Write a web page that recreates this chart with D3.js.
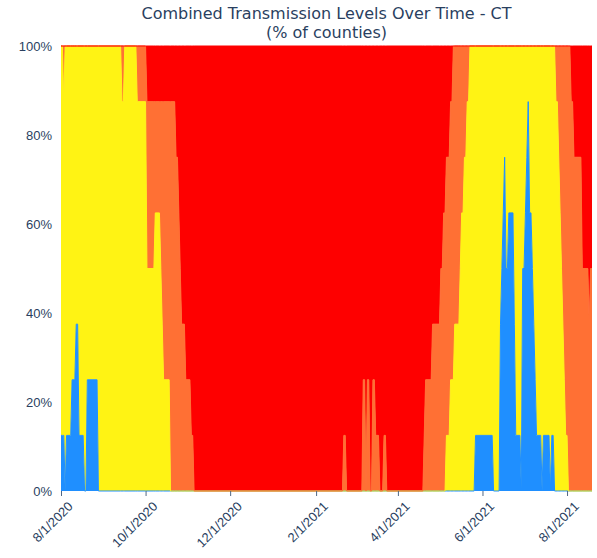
<!DOCTYPE html>
<html><head><meta charset="utf-8">
<script src="https://cdn.jsdelivr.net/npm/d3@7"></script>
<style>body{margin:0;background:#fff} svg{display:block}</style>
</head><body>
<div id="chart"></div>
<script>
// Dates on which the county mix changes (each value holds until the next date)
const dates = [
"2020-08-01","2020-08-03","2020-08-04","2020-08-05","2020-08-09","2020-08-12","2020-08-14","2020-08-18","2020-08-20","2020-08-28",
"2020-09-14","2020-09-16","2020-09-25","2020-10-02","2020-10-08","2020-10-12","2020-10-13","2020-10-14","2020-10-19","2020-10-23",
"2020-10-25","2020-10-26","2020-10-27","2020-10-30","2020-11-03","2020-11-05","2021-02-21","2021-02-23","2021-03-07","2021-03-09",
"2021-03-10","2021-03-12","2021-03-14","2021-03-16","2021-03-19","2021-03-22","2021-03-24","2021-04-20","2021-04-21","2021-04-26",
"2021-05-02","2021-05-04","2021-05-06","2021-05-09","2021-05-11","2021-05-12","2021-05-16","2021-05-17","2021-05-19","2021-05-21",
"2021-05-23","2021-05-27","2021-06-09","2021-06-14","2021-06-15","2021-06-16","2021-06-17","2021-06-18","2021-06-20","2021-06-24",
"2021-06-25","2021-06-29","2021-06-30","2021-07-02","2021-07-03","2021-07-04","2021-07-05","2021-07-07","2021-07-08","2021-07-09",
"2021-07-10","2021-07-14","2021-07-15","2021-07-20","2021-07-21","2021-07-23","2021-07-24","2021-07-26","2021-07-27","2021-07-28",
"2021-07-29","2021-07-30","2021-07-31","2021-08-02","2021-08-04","2021-08-06","2021-08-12","2021-08-17","2021-08-18","2021-08-19"];

// % of counties at each transmission level
const lowPct = [
12.5,12.5,0,12.5,25,37.5,12.5,0,25,0,
0,0,0,0,0,0,0,0,0,0,
0,0,0,0,0,0,0,0,0,0,
0,0,0,0,0,0,0,0,0,0,
0,0,0,0,0,0,0,0,0,0,
0,12.5,0,37.5,50,62.5,75,50,62.5,37.5,
12.5,0,50,62.5,75,87.5,62.5,50,37.5,25,
12.5,0,12.5,0,12.5,0,0,0,0,0,
0,0,0,0,0,0,0,0,0,0];
const moderatePct = [
87.5,75,100,87.5,75,62.5,87.5,100,75,100,
87.5,100,87.5,50,62.5,50,37.5,25,0,0,
0,0,0,0,0,0,0,0,0,0,
0,0,0,0,0,0,0,0,0,0,
0,0,12.5,25,25,37.5,50,62.5,75,87.5,
100,87.5,100,62.5,50,37.5,25,50,37.5,62.5,
87.5,100,50,37.5,25,12.5,37.5,50,62.5,75,
87.5,100,87.5,100,87.5,100,87.5,75,62.5,50,
37.5,25,12.5,0,0,0,0,0,0,0];
const substantialPct = [
0,12.5,0,0,0,0,0,0,0,0,
12.5,0,12.5,37.5,25,37.5,50,62.5,87.5,75,
62.5,50,37.5,25,12.5,0,12.5,0,25,0,
25,0,25,12.5,0,12.5,0,12.5,25,37.5,
50,62.5,62.5,62.5,75,62.5,50,37.5,25,12.5,
0,0,0,0,0,0,0,0,0,0,
0,0,0,0,0,0,0,0,0,0,
0,0,0,0,0,0,12.5,25,37.5,50,
62.5,75,87.5,100,87.5,75,50,37.5,50,50];
const highPct = [
0,0,0,0,0,0,0,0,0,0,
0,0,0,12.5,12.5,12.5,12.5,12.5,12.5,25,
37.5,50,62.5,75,87.5,100,87.5,100,75,100,
75,100,75,87.5,100,87.5,100,87.5,75,62.5,
50,37.5,25,12.5,0,0,0,0,0,0,
0,0,0,0,0,0,0,0,0,0,
0,0,0,0,0,0,0,0,0,0,
0,0,0,0,0,0,0,0,0,0,
0,0,0,0,12.5,25,50,62.5,50,50];

const seriesKeys = ["low","moderate","substantial","high"];
const seriesColors = ["#1f8fff","#fff314","#ff7034","#fe0000"];
const xTickDates = ["2020-08-01","2020-10-01","2020-12-01","2021-02-01","2021-04-01","2021-06-01","2021-08-01"];
const yTickValues = [0,20,40,60,80,100];
const titleLines = ["Combined Transmission Levels Over Time - CT","(% of counties)"];

const W = 597, H = 558;
const margin = {top:46, right:5, bottom:67, left:61};
const parse = d3.timeParse("%Y-%m-%d");

// Rows as given at each change date
const rows = dates.map((d,i)=>({date:parse(d), low:lowPct[i], moderate:moderatePct[i], substantial:substantialPct[i], high:highPct[i]}));
// Daily reporting: each value is held through the day before the next change date
const table = [];
rows.forEach((r,i)=>{
  if(i>0){
    const prev = rows[i-1];
    const dayBefore = d3.timeDay.offset(r.date,-1);
    if(dayBefore > prev.date) table.push(Object.assign({}, prev, {date:dayBefore}));
  }
  table.push(r);
});

const svg = d3.select("#chart").append("svg").attr("width",W).attr("height",H)
  .style("font-family","'DejaVu Sans', Verdana, sans-serif");

const x = d3.scaleTime().domain([rows[0].date, rows[rows.length-1].date]).range([margin.left, W-margin.right]);
const y = d3.scaleLinear().domain([0,100]).range([H-margin.bottom, margin.top]);

svg.append("defs").append("clipPath").attr("id","clip").append("rect")
  .attr("x",margin.left).attr("y",margin.top-1).attr("width",W-margin.left-margin.right).attr("height",H-margin.top-margin.bottom+2);

const layers = d3.stack().keys(seriesKeys)(table);

const area = d3.area().curve(d3.curveLinear)
  .x(d=>x(d.data.date)).y0(d=>y(d[0])).y1(d=>y(d[1]));
const line = d3.line().curve(d3.curveLinear)
  .x(d=>x(d.data.date)).y(d=>y(d[1]));

const g = svg.append("g").attr("clip-path","url(#clip)");
g.selectAll("path.area").data(layers).join("path").attr("class","area")
  .attr("d",area).attr("fill",(d,i)=>seriesColors[i]);
g.selectAll("path.line").data(layers).join("path").attr("class","line")
  .attr("d",line).attr("fill","none").attr("stroke",(d,i)=>seriesColors[i]).attr("stroke-width",1);

// X axis
const xAxis = d3.axisBottom(x).tickValues(xTickDates.map(parse)).tickFormat(d3.timeFormat("%-m/%-d/%Y")).tickSize(5).tickSizeOuter(0);
const xg = svg.append("g").attr("transform",`translate(0,${H-margin.bottom})`).call(xAxis);
xg.select(".domain").remove();
xg.selectAll(".tick line").attr("stroke","#506784");
xg.selectAll(".tick text").attr("fill","#2a3f5f").style("font-size","13px")
  .attr("text-anchor","end").attr("y",0).attr("dy","0.35em")
  .attr("transform","translate(9,13) rotate(-45)");

// Y axis
const yAxis = d3.axisLeft(y).tickValues(yTickValues).tickFormat(d=>d+"%").tickSize(0).tickPadding(9);
const yg = svg.append("g").attr("transform",`translate(${margin.left},0)`).call(yAxis);
yg.select(".domain").remove();
yg.selectAll(".tick text").attr("fill","#2a3f5f").style("font-size","13px");

// Title
const cx = (margin.left + W - margin.right)/2;
svg.append("text").attr("x",cx).attr("y",19).attr("text-anchor","middle").attr("fill","#2a3f5f")
  .style("font-size","16px").text(titleLines[0]);
svg.append("text").attr("x",cx).attr("y",38).attr("text-anchor","middle").attr("fill","#2a3f5f")
  .style("font-size","16px").text(titleLines[1]);
</script>
</body></html>
